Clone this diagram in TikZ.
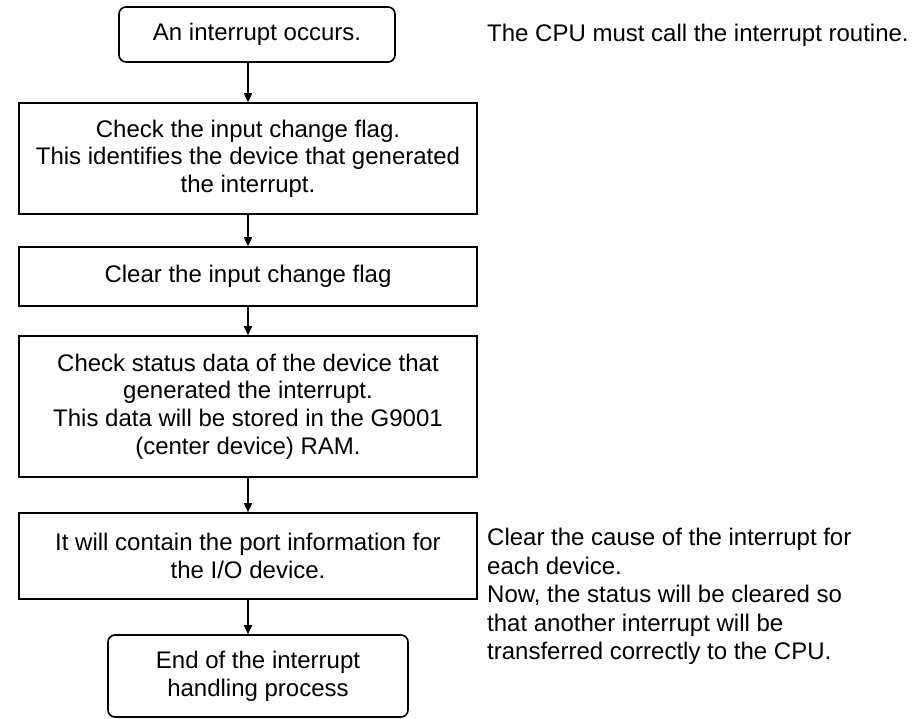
\documentclass[tikz,border=0pt]{standalone}
\usepackage{fontspec}
\setmainfont{Liberation Sans}
\usetikzlibrary{arrows.meta}
\begin{document}
\begin{tikzpicture}[x=1pt,y=-1pt,
  every node/.style={font=\fontsize{24}{27.6}\selectfont},
  procbox/.style={draw, line width=1.6pt, minimum width=458pt, align=center, inner sep=0pt},
  termbox/.style={draw, rounded corners=7pt, line width=1.6pt, align=center, inner sep=0pt},
  note/.style={inner sep=0pt, align=left},
  flow/.style={-{Triangle[length=9pt,width=8pt]}, line width=1.6pt}]
\useasboundingbox (0,0) rectangle (923,718);

% flow steps
\node[termbox, minimum width=276pt, minimum height=55pt] (start) at (257,34.5) {An interrupt occurs.};
\node[procbox, minimum height=111pt] (chk) at (248,158.5)
  {Check the input change flag.\\This identifies the device that generated\\the interrupt.};
\node[procbox, minimum height=59pt] (clr) at (248,276.5) {Clear the input change flag};
\node[procbox, minimum height=141pt] (stat) at (248,406.5)
  {Check status data of the device that\\generated the interrupt.\\This data will be stored in the G9001\\(center device) RAM.};
\node[procbox, minimum height=86pt] (port) at (248,556)
  {It will contain the port information for\\the I/O device.};
\node[termbox, minimum width=300pt, minimum height=82pt] (end) at (258,676)
  {End of the interrupt\\handling process};

% connectors, straight down the centre line of the process boxes
\draw[flow] (start.south -| chk.north) -- (chk.north);
\draw[flow] (chk) -- (clr);
\draw[flow] (clr) -- (stat);
\draw[flow] (stat) -- (port);
\draw[flow] (port.south) -- (port.south |- end.north);

% side remarks
\node[note, anchor=west] (cpu) at (487,35) {The CPU must call the interrupt routine.};
\node[note, anchor=north west, font=\fontsize{24}{28.5}\selectfont] (clear) at (487,528)
  {Clear the cause of the interrupt for\\each device.\\Now, the status will be cleared so\\that another interrupt will be\\transferred correctly to the CPU.};
\end{tikzpicture}
\end{document}
